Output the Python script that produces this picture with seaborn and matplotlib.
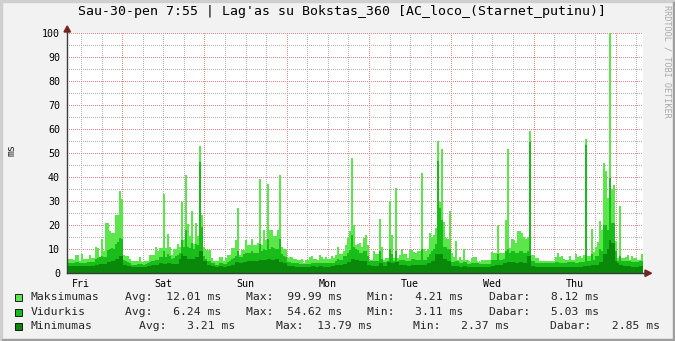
import numpy as np
import pandas as pd
import matplotlib
matplotlib.use("Agg")
import matplotlib.pyplot as plt
import matplotlib.patches as mpatches
import seaborn as sns

# ---------------- data ----------------
title = "Sau-30-pen 7:55 | Lag'as su Bokstas_360 [AC_loco_(Starnet_putinu)]"
day_labels = ["Fri", "Sat", "Sun", "Mon", "Tue", "Wed", "Thu"]
series_names = ["Maksimumas", "Vidurkis", "Minimumas"]
y_label = "ms"
watermark = "RRDTOOL / TOBI OETIKER"

maksimumas = [
    5.8, 5.8, 5.8, 5.6, 7.5, 7.5, 4.9, 8.0, 5.8, 5.8, 5.8, 7.6, 6.3, 6.3, 10.8, 10.4,
    6.3, 14.2, 9.0, 21.0, 21.0, 17.4, 16.7, 16.7, 24.0, 24.0, 34.3, 30.8, 7.6, 7.2, 7.2, 5.8,
    4.9, 4.9, 4.9, 4.9, 6.7, 4.4, 4.9, 4.9, 4.9, 7.6, 7.6, 7.6, 10.7, 9.0, 10.4, 10.4,
    33.0, 10.4, 16.4, 10.8, 7.6, 10.0, 10.0, 12.2, 10.8, 29.4, 13.6, 41.0, 20.6, 15.6, 26.0, 12.2,
    20.8, 15.6, 52.8, 24.0, 10.8, 9.4, 9.4, 9.4, 6.3, 4.9, 4.9, 4.9, 6.7, 6.7, 4.9, 6.3,
    7.6, 7.6, 10.4, 10.4, 13.9, 27.0, 7.6, 9.7, 9.7, 13.9, 11.8, 11.8, 14.2, 11.8, 11.8, 12.5,
    39.0, 11.8, 18.0, 13.6, 37.2, 18.0, 18.0, 15.3, 15.3, 18.0, 41.0, 11.0, 10.0, 10.0, 6.3, 6.7,
    6.7, 5.8, 5.8, 5.3, 5.3, 5.8, 4.2, 5.6, 5.6, 6.5, 7.2, 5.8, 5.8, 5.3, 7.5, 6.5,
    5.8, 6.5, 5.8, 5.8, 7.0, 6.3, 7.6, 10.7, 8.0, 8.0, 9.0, 11.8, 14.6, 17.4, 48.0, 20.0,
    11.8, 12.0, 12.5, 11.0, 14.6, 16.0, 11.8, 5.6, 5.6, 9.0, 8.0, 8.0, 22.5, 11.0, 5.6, 6.3,
    6.3, 29.9, 16.0, 6.3, 35.4, 6.3, 7.6, 10.0, 8.0, 8.0, 6.3, 9.4, 9.4, 8.9, 8.2, 9.3,
    9.3, 41.8, 10.0, 9.3, 9.9, 16.8, 14.9, 15.8, 18.9, 55.0, 29.7, 51.7, 21.4, 14.4, 14.0, 26.0,
    8.2, 6.8, 13.3, 5.4, 6.5, 5.4, 10.0, 5.4, 5.4, 4.7, 6.1, 6.8, 6.8, 4.7, 4.7, 5.4,
    5.4, 5.4, 5.4, 5.4, 8.9, 8.2, 8.2, 20.0, 8.2, 8.2, 8.5, 22.0, 51.7, 10.3, 14.2, 13.75,
    12.6, 17.5, 17.5, 16.5, 15.1, 14.0, 14.9, 59.3, 7.4, 7.4, 6.25, 6.3, 5.1, 5.1, 4.9, 4.9,
    5.1, 5.1, 5.1, 5.1, 6.5, 8.3, 6.5, 7.2, 5.9, 5.5, 5.5, 7.2, 5.5, 5.5, 7.9, 6.5,
    7.2, 6.25, 7.4, 55.8, 7.2, 7.2, 18.5, 8.75, 10.7, 12.9, 21.8, 18.0, 45.8, 42.6, 31.25, 99.99,
    35.0, 36.8, 13.2, 6.3, 28.0, 6.25, 6.25, 6.5, 7.6, 5.5, 6.9, 6.3, 6.3, 5.5, 5.5, 7.9,
]
vidurkis = [
    4.2, 4.2, 4.0, 4.0, 4.5, 4.5, 4.0, 4.3, 4.2, 4.2, 4.5, 4.5, 4.5, 4.6, 6.0, 6.2,
    6.8, 7.2, 6.5, 6.8, 9.5, 9.8, 10.4, 10.2, 12.0, 12.8, 14.6, 14.0, 5.6, 5.0, 4.5, 4.3,
    3.5, 3.5, 3.5, 3.6, 3.8, 3.8, 3.5, 3.6, 4.2, 4.5, 5.0, 5.2, 5.5, 5.5, 6.5, 6.8,
    9.0, 6.5, 8.0, 7.0, 6.0, 6.2, 7.0, 7.5, 8.5, 13.7, 11.0, 18.0, 11.0, 10.5, 12.5, 10.0,
    12.0, 11.5, 46.4, 19.3, 7.0, 6.0, 5.0, 5.0, 4.2, 4.0, 3.5, 3.5, 4.0, 4.0, 3.7, 3.8,
    4.5, 4.8, 6.0, 6.2, 7.0, 9.0, 6.5, 6.5, 8.0, 8.5, 8.5, 8.5, 9.0, 8.5, 8.5, 8.5,
    12.0, 9.0, 10.0, 9.5, 14.0, 10.0, 11.0, 10.5, 10.0, 10.0, 14.0, 8.0, 7.0, 6.5, 4.5, 4.5,
    4.2, 4.2, 4.0, 4.0, 3.8, 3.8, 3.6, 3.6, 3.8, 3.8, 4.2, 4.2, 4.0, 4.0, 4.2, 4.2,
    4.0, 4.0, 4.0, 4.0, 4.3, 4.3, 5.0, 6.0, 5.5, 5.5, 7.0, 7.0, 8.5, 9.5, 16.0, 11.0,
    10.0, 9.5, 8.5, 8.5, 9.0, 9.0, 7.0, 5.0, 5.0, 5.0, 5.0, 5.0, 9.0, 6.0, 4.5, 4.5,
    4.8, 10.0, 8.0, 5.0, 9.0, 5.0, 5.5, 5.5, 5.5, 5.0, 5.0, 5.0, 6.0, 6.0, 5.5, 5.5,
    5.5, 10.0, 5.5, 5.5, 6.5, 8.0, 9.0, 10.0, 12.0, 46.8, 27.0, 22.0, 11.0, 11.0, 10.0, 10.0,
    4.5, 4.5, 5.0, 5.0, 4.0, 4.0, 4.5, 4.5, 3.8, 3.8, 4.0, 4.0, 4.2, 4.2, 3.9, 3.9,
    3.8, 3.8, 3.9, 3.9, 5.5, 5.5, 5.5, 8.0, 5.5, 5.5, 6.0, 9.0, 10.0, 8.5, 9.0, 9.0,
    8.5, 8.5, 9.0, 9.0, 8.5, 8.5, 9.0, 54.62, 5.0, 4.8, 4.3, 4.3, 4.0, 4.0, 4.0, 4.0,
    4.0, 4.0, 4.0, 4.0, 4.5, 4.5, 4.3, 4.3, 4.2, 4.2, 4.4, 4.4, 4.5, 4.5, 4.3, 4.3,
    4.5, 4.5, 4.5, 53.5, 4.8, 4.8, 8.0, 5.5, 7.0, 7.0, 10.0, 9.0, 20.0, 20.0, 18.0, 39.6,
    20.8, 20.8, 9.0, 5.0, 7.0, 4.8, 5.0, 5.0, 5.0, 5.0, 4.5, 4.5, 4.5, 4.5, 5.0, 5.0,
]
minimumas = [
    2.8, 2.8, 2.8, 2.8, 3.0, 3.0, 2.8, 2.8, 2.9, 2.9, 3.0, 3.0, 3.0, 3.0, 3.5, 3.5,
    3.8, 3.8, 3.6, 3.6, 4.5, 4.5, 5.0, 5.0, 6.0, 6.0, 7.0, 7.0, 3.2, 3.2, 3.0, 3.0,
    2.6, 2.6, 2.6, 2.6, 2.7, 2.7, 2.6, 2.6, 2.9, 2.9, 3.2, 3.2, 3.5, 3.5, 4.0, 4.0,
    3.8, 3.8, 4.0, 4.0, 3.6, 3.6, 3.8, 3.8, 6.0, 8.0, 7.0, 7.0, 6.0, 6.0, 6.0, 6.0,
    6.5, 6.5, 9.0, 9.0, 5.0, 5.0, 3.5, 3.5, 3.0, 3.0, 2.7, 2.7, 2.8, 2.8, 2.7, 2.7,
    3.0, 3.0, 3.5, 3.5, 4.5, 4.5, 4.0, 4.0, 4.5, 4.5, 4.8, 4.8, 5.0, 5.0, 5.0, 5.0,
    5.5, 5.5, 5.5, 5.5, 6.0, 6.0, 5.5, 5.5, 6.0, 6.0, 4.5, 4.5, 4.0, 4.0, 3.0, 3.0,
    2.8, 2.8, 2.7, 2.7, 2.6, 2.6, 2.5, 2.5, 2.6, 2.6, 2.8, 2.8, 2.7, 2.7, 2.8, 2.8,
    2.7, 2.7, 2.7, 2.7, 2.8, 2.8, 3.2, 3.2, 3.3, 3.3, 3.8, 3.8, 4.5, 4.5, 6.0, 6.0,
    5.5, 5.5, 5.0, 5.0, 5.0, 5.0, 3.2, 3.2, 3.0, 3.0, 3.0, 3.0, 4.0, 4.0, 2.8, 2.8,
    4.5, 4.5, 4.0, 4.0, 4.5, 4.5, 3.2, 3.2, 3.2, 3.2, 3.0, 3.0, 3.5, 3.5, 3.3, 3.3,
    3.5, 3.5, 3.3, 3.3, 4.0, 4.0, 5.0, 5.0, 8.0, 8.0, 8.0, 8.0, 6.0, 6.0, 5.0, 5.0,
    2.8, 2.8, 3.0, 3.0, 2.7, 2.7, 2.8, 2.8, 2.6, 2.6, 2.6, 2.6, 2.7, 2.7, 2.6, 2.6,
    2.5, 2.5, 2.6, 2.6, 3.0, 3.0, 3.5, 3.5, 3.2, 3.2, 4.0, 4.0, 4.5, 4.5, 4.5, 4.5,
    4.2, 4.2, 4.5, 4.5, 4.2, 4.2, 7.0, 7.0, 3.0, 3.0, 2.6, 2.6, 2.5, 2.5, 2.4, 2.4,
    2.4, 2.4, 2.5, 2.5, 2.7, 2.7, 2.6, 2.6, 2.5, 2.5, 2.6, 2.6, 2.7, 2.7, 2.6, 2.6,
    2.7, 2.7, 3.0, 3.0, 2.8, 2.8, 3.5, 3.5, 3.5, 3.5, 4.5, 4.5, 8.0, 8.0, 10.0, 13.79,
    12.5, 12.5, 5.0, 4.0, 3.5, 3.5, 2.8, 2.8, 3.0, 3.0, 2.7, 2.7, 2.7, 2.7, 3.0, 3.0,
]
stat_avg = [12.01, 6.24, 3.21]
stat_max = [99.99, 54.62, 13.79]
stat_min = [4.21, 3.11, 2.37]
stat_now = [8.12, 5.03, 2.85]

# time axis: one week (168 h) starting Fri 07:55
span_hours = 168.0
first_noon = 4 + 5 / 60.0

# ---------------- style ----------------
colors = ["#5BE64B", "#19BD19", "#0A880A"]
BACK = "#F2F2F2"
SHADEA = "#CFCFCF"
SHADEB = "#9E9E9E"
GRID = "#B0B0B0"
MGRID = "#E68686"
ARROW = "#801F1F"
AXIS = "#3A3A3A"
MONO = "DejaVu Sans Mono"

W, H = 675, 341
sns.set_theme(style="white")
plt.rcParams["font.family"] = [MONO, "DejaVu Sans"]
plt.rcParams["lines.scale_dashes"] = False

fig = plt.figure(figsize=(W / 100, H / 100), dpi=100, facecolor=BACK)


def fx(px):
    return px / W


def fy(py):
    return 1 - py / H


# plot area in pixels
L, R, T, B = 67, 643, 33, 273
ax = fig.add_axes([fx(L), fy(B), (R - L) / W, (B - T) / H])
ax.set_facecolor("white")

n = len(maksimumas)
bin_h = span_hours / n
t = (np.arange(n) + 0.5) * bin_h
df = pd.DataFrame({"t": t, "max": maksimumas, "avg": vidurkis, "min": minimumas})

for col, c in zip(["max", "avg", "min"], colors):
    sns.barplot(data=df, x="t", y=col, native_scale=True, width=1.0, color=c,
                saturation=1, errorbar=None, linewidth=0, antialiased=False,
                zorder=2, ax=ax)

ax.set_xlim(0, span_hours)
ax.set_ylim(0, 100)

# dotted grid (drawn under data): 1 px dots on a 2 px period
dash = (0.36, (0.72, 0.72))
gkw = dict(lw=0.72, ls=dash, antialiased=True, snap=True)
for v in np.arange(5, 100.1, 10):
    ax.axhline(v, color=GRID, zorder=0.5, **gkw)
for v in np.arange(10, 100.1, 10):
    ax.axhline(v, color=MGRID, zorder=0.6, **gkw)
noons = first_noon + 24 * np.arange(len(day_labels))
six_h = np.arange(first_noon % 6, span_hours, 6)
midnights = np.arange(first_noon + 12, span_hours, 24)
for v in six_h:
    ax.axvline(v, color=GRID, zorder=0.5, **gkw)
for v in midnights:
    ax.axvline(v, color=MGRID, zorder=0.6, **gkw)

ax.set_yticks(np.arange(0, 101, 10))
ax.set_yticklabels([str(v) for v in range(0, 101, 10)])
ax.set_xticks(noons)
ax.set_xticklabels(day_labels)
ax.tick_params(axis="both", which="both", labelsize=7.2, length=2, width=0.8,
               color=AXIS, labelcolor="black")
ax.tick_params(axis="y", pad=3)
ax.tick_params(axis="x", pad=2.5)
ax.set_xlabel("")
ax.set_ylabel("")
for s in ["top", "right"]:
    ax.spines[s].set_visible(False)
for s in ["left", "bottom"]:
    ax.spines[s].set_visible(True)
    ax.spines[s].set_color(AXIS)
    ax.spines[s].set_linewidth(1.0)
    ax.spines[s].set_zorder(3)

# axis extensions and arrows (pixel geometry)
fig.add_artist(plt.Line2D([fx(L), fx(L)], [fy(T), fy(30)], color=AXIS, lw=1.0,
                          transform=fig.transFigure))
fig.add_artist(plt.Line2D([fx(R), fx(647)], [fy(B), fy(B)], color=AXIS, lw=1.0,
                          transform=fig.transFigure))
fig.add_artist(mpatches.Polygon([[fx(64), fy(32)], [fx(70.5), fy(32)], [fx(67.2), fy(26)]],
                                closed=True, color=ARROW, transform=fig.transFigure))
fig.add_artist(mpatches.Polygon([[fx(645), fy(270)], [fx(645), fy(276.5)], [fx(651.5), fy(273.2)]],
                                closed=True, color=ARROW, transform=fig.transFigure))

# 3d frame
fig.add_artist(mpatches.Rectangle((0, 0), fx(2), 1, color=SHADEA, transform=fig.transFigure))
fig.add_artist(mpatches.Rectangle((0, fy(2)), 1, 2 / H, color=SHADEA, transform=fig.transFigure))
fig.add_artist(mpatches.Rectangle((fx(W - 2), 0), 2 / W, fy(2), color=SHADEB, transform=fig.transFigure))
fig.add_artist(mpatches.Rectangle((fx(2), 0), fx(W - 2), 2 / H, color=SHADEB, transform=fig.transFigure))

# texts
fig.text(fx(W / 2 + 4), fy(12), title, ha="center", va="center", fontsize=9.5,
         family=MONO, color="black")
fig.text(fx(11.5), fy(150), y_label, rotation=90, ha="center", va="center",
         fontsize=7.2, family=MONO)
fig.text(fx(666.5), fy(5), watermark, rotation=-90, ha="center", va="top",
         fontsize=6.1, family=MONO, color="#A8A8A8")

# legend
row_y = [297, 312, 326]
block_x = [[124.6, 245.8, 367, 489], [124.6, 245.8, 367, 489], [139.3, 276, 413.2, 550.4]]
for i, name in enumerate(series_names):
    y = row_y[i]
    fig.add_artist(mpatches.Rectangle((fx(15), fy(y + 4)), 7 / W, 7 / H,
                                      facecolor=colors[i], edgecolor="black", lw=0.6,
                                      transform=fig.transFigure))
    fig.text(fx(30.3), fy(y), name, ha="left", va="center", fontsize=8.2, family=MONO)
    pieces = [f"Avg:{stat_avg[i]:7.2f} ms", f"Max:{stat_max[i]:7.2f} ms",
              f"Min:{stat_min[i]:7.2f} ms", f"Dabar:{stat_now[i]:7.2f} ms"]
    for bx, s in zip(block_x[i], pieces):
        fig.text(fx(bx), fy(y), s, ha="left", va="center", fontsize=8.2, family=MONO)

fig.savefig("out.png", dpi=100, facecolor=BACK)
